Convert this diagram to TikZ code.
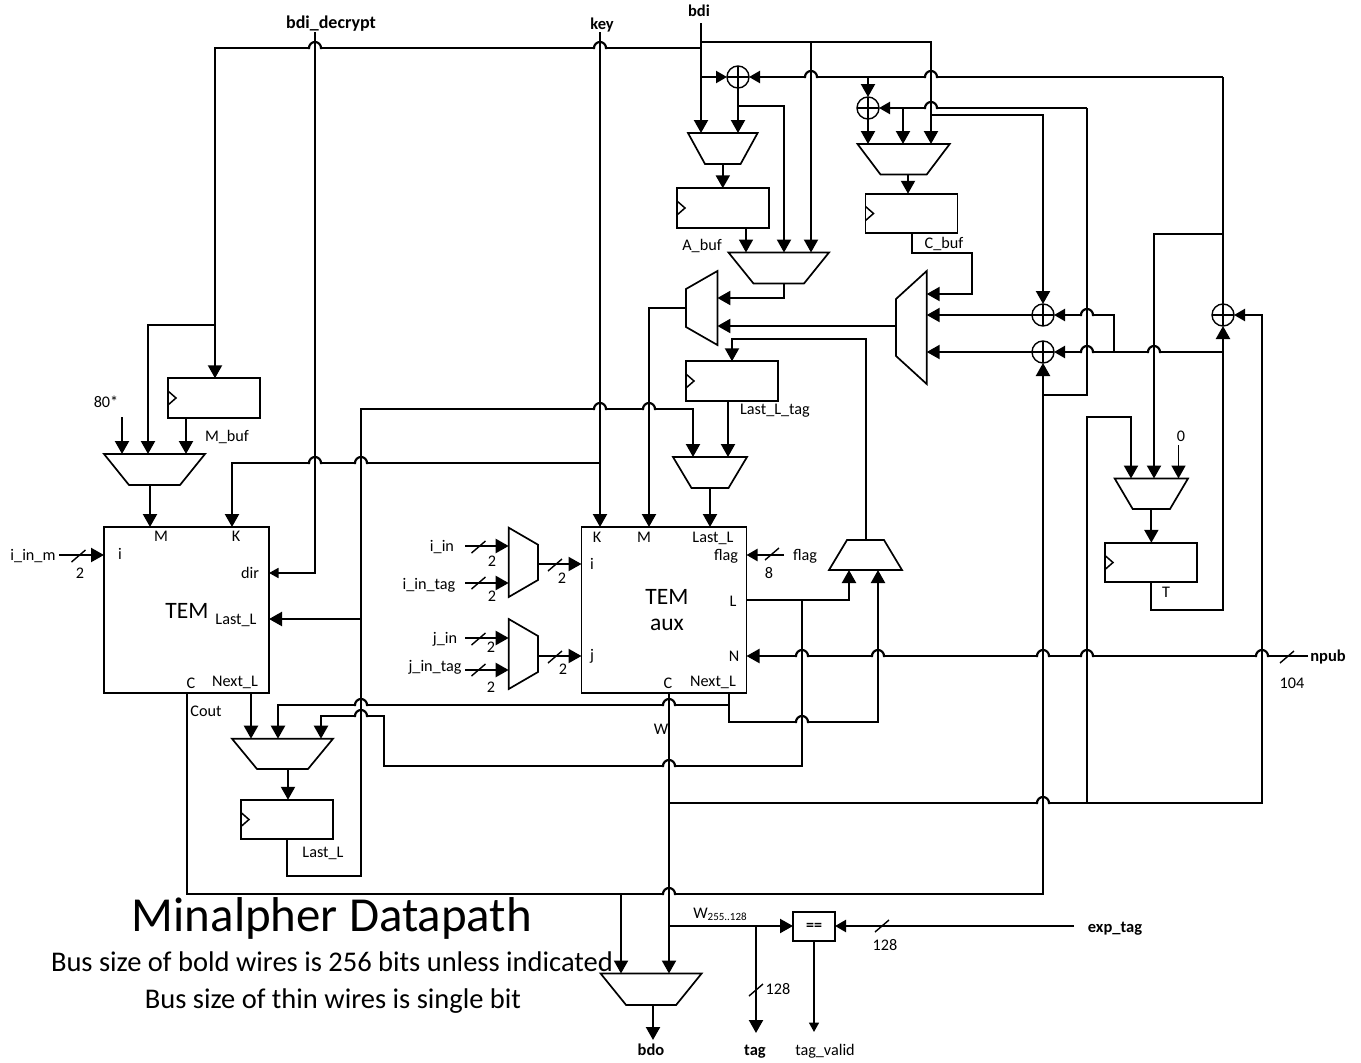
\documentclass[tikz,border=0pt]{standalone}
\usepackage{fontspec}
\setmainfont{Carlito}
\usetikzlibrary{arrows.meta,fit,calc}
\tikzset{
  x=1pt,y=-1pt,
  bus/.style={line width=2.2pt,draw=black},
  thin wire/.style={line width=1.7pt,draw=black},
  ar/.style={-{Triangle[length=13pt,width=14pt]}},
  sar/.style={-{Triangle[length=11pt,width=12pt]}},
  tar/.style={-{Triangle[length=9.5pt,width=10pt]}},
  blk/.style={draw=black,line width=1.6pt,inner sep=0pt,outer sep=0pt},
  regbox/.style={blk,minimum width=92pt,minimum height=39.5pt},
  tembox/.style={blk,minimum width=165pt,minimum height=166pt},
  xorgate/.style={circle,draw=black,line width=1.4pt,minimum size=22pt,inner sep=0pt,outer sep=0pt,
    path picture={\draw[line width=1.3pt] (path picture bounding box.north)--(path picture bounding box.south)
      (path picture bounding box.west)--(path picture bounding box.east);}},
  labbase/.style={inner sep=0pt,outer sep=0pt},
  lab/.style={labbase,text height=11pt,text depth=3pt,font=\fontsize{16.2}{18}\selectfont},
  blab/.style={labbase,text height=11pt,text depth=3pt,font=\fontsize{16.5}{18}\selectfont\bfseries},
  big/.style={labbase,font=\fontsize{23.5}{26}\selectfont},
  mid/.style={labbase,font=\fontsize{28.5}{32}\selectfont},
  huge title/.style={labbase,font=\fontsize{48.9}{52}\selectfont},
  muxline/.style={line width=1.7pt,draw=black,line join=miter},
  muxhold/.style={inner sep=0pt,outer sep=0pt},
}
% name, xl, xr, ytop, ybot, inset
\newcommand{\muxhold}[5]{%
  \coordinate (#1@a) at (#2,#4); \coordinate (#1@b) at (#3,#5);
  \node[muxhold,fit=(#1@a)(#1@b)] (#1) {};}
\newcommand{\muxD}[6]{\muxhold{#1}{#2}{#3}{#4}{#5}%
  \draw[muxline] (#1.north west)--(#1.north east)--([xshift=-#6pt]#1.south east)--([xshift=#6pt]#1.south west)--cycle;}
\newcommand{\muxU}[6]{\muxhold{#1}{#2}{#3}{#4}{#5}%
  \draw[muxline] ([xshift=#6pt]#1.north west)--([xshift=-#6pt]#1.north east)--(#1.south east)--(#1.south west)--cycle;}
\newcommand{\muxR}[6]{\muxhold{#1}{#2}{#3}{#4}{#5}%
  \draw[muxline] (#1.north east)--(#1.south east)--([yshift=#6pt]#1.south west)--([yshift=-#6pt]#1.north west)--cycle;}
\newcommand{\muxL}[6]{\muxhold{#1}{#2}{#3}{#4}{#5}%
  \draw[muxline] (#1.north west)--(#1.south west)--([yshift=#6pt]#1.south east)--([yshift=-#6pt]#1.north east)--cycle;}
\newcommand{\clk}[1]{\draw[line width=1.5pt] ([yshift=7pt]#1.west)--([xshift=8pt]#1.west)--([yshift=-7pt]#1.west);}
\newcommand{\hop}[2]{\begin{scope}[shift={(#1,#2)}]
  \draw[white,line width=3.8pt] (-5.5,0)--(5.5,0);
  \draw[bus] (0,-8)--(0,8);
  \draw[bus] (-7,0)--(-6,0) arc[start angle=180,end angle=0,radius=6pt]--(7,0);
  \end{scope}}
\newcommand{\busslash}[2]{\begin{scope}[shift={(#1,#2)}]\draw[line width=1.4pt] (-7,6)--(7,-6);\end{scope}}
\begin{document}
\begin{tikzpicture}
\useasboundingbox (0,0) rectangle (1361,1063);
% ---- blocks
\node[xorgate] (xorA) at (738,77) {};
\node[xorgate] (xorB) at (868,108) {};
\node[xorgate] (xorC) at (1043,315) {};
\node[xorgate] (xorD) at (1043,352) {};
\node[xorgate] (xorE) at (1223,315) {};
\node[regbox] (rA) at (723,208) {};
\node[regbox] (rC) at (911.5,213.5) {};
\node[regbox] (rL) at (732,381) {};
\node[regbox] (rM) at (214,398) {};
\node[regbox] (rN) at (287,819.5) {};
\node[regbox] (rT) at (1151,562.5) {};
\clk{rA}\clk{rC}\clk{rL}\clk{rM}\clk{rN}\clk{rT}
\node[tembox] (tem) at (186.5,610) {};
\node[tembox] (aux) at (664,610) {};
\node[blk,minimum width=42pt,minimum height=29pt,font=\fontsize{16}{18}\selectfont\bfseries] (eq) at (814,926.5) {==};
\muxD{muxA}{688}{757.6}{133}{164}{17}
\muxD{muxB}{728.5}{829}{252.5}{283.5}{25}
\muxD{muxC}{857.5}{949.7}{144}{174.5}{23}
\muxR{muxE}{686}{717.4}{271}{345}{18}
\muxR{muxF}{896}{926.7}{271}{384}{28}
\muxD{muxG}{673}{747}{457}{488}{18.5}
\muxU{muxH}{829}{902}{540}{570}{18}
\muxD{muxT}{1114.7}{1188}{478.5}{509}{18}
\muxD{muxM}{104}{205}{454}{485}{25}
\muxD{muxN}{232}{333}{738.7}{769}{25}
\muxD{muxO}{600.6}{701.6}{973.5}{1005}{25.5}
\muxL{muxI}{508.7}{538}{527.7}{597}{17}
\muxL{muxJ}{508.7}{538}{619}{689}{17}
% ---- rail coordinates
\coordinate (bdiTop) at (701,23);
\coordinate (railJ) at (701,42);
\coordinate (railC) at (931,42);
\coordinate (railM) at (811,42);
\coordinate (decJ) at (701,48);
\coordinate (decC) at (215,48);
\coordinate (decM) at (215,325);
\coordinate (m148) at (148,325);
\coordinate (feedR) at (1223,77);
\coordinate (feedL) at (701,77);
\coordinate (feedB) at (868,77);
\coordinate (xaJ) at (738,106);
\coordinate (xa783) at (784,106);
\coordinate (rB) at (1087,108);
\coordinate (rB903) at (903,108);
\coordinate (c115) at (931,115);
\coordinate (rBend) at (1087,395);
\coordinate (d395) at (1043,395);
\coordinate (outC) at (908,174.5);
\coordinate (outCb) at (912,233);
\coordinate (c253) at (912,253);
\coordinate (c972) at (972,253);
\coordinate (c294) at (972,294);
\coordinate (outA) at (746,228);
\coordinate (outB) at (784,283.5);
\coordinate (b298) at (784,298);
\coordinate (mOut) at (649,308);
\coordinate (fOut) at (896,326);
\coordinate (cout) at (187,693);
\coordinate (cb) at (187,894);
\coordinate (cr) at (1043,894);
\coordinate (x1114a) at (1114,352);
\coordinate (x1114b) at (1114,315);
\coordinate (eR) at (1223,352);
\coordinate (t610) at (1151,610);
\coordinate (t610r) at (1223,610);
\coordinate (e234) at (1223,234);
\coordinate (t234) at (1154,234);
\coordinate (w803) at (669,803);
\coordinate (w1262) at (1262,803);
\coordinate (w1262u) at (1262,315);
\coordinate (w1087) at (1087,803);
\coordinate (w1087u) at (1087,417);
\coordinate (t1131) at (1131,417);
\coordinate (zero) at (1178.5,445);
\coordinate (hOut) at (866,540);
\coordinate (h339) at (866,339);
\coordinate (l339) at (732,339);
\coordinate (rLout) at (728,400.5);
\coordinate (n287) at (287,876);
\coordinate (n361) at (361,876);
\coordinate (n361u) at (361,409);
\coordinate (g409) at (693,409);
\coordinate (n619) at (361,619);
\coordinate (keyTop) at (600,32);
\coordinate (k463) at (600,463);
\coordinate (t232) at (232,463);
\coordinate (dirTop) at (315,32);
\coordinate (dir573) at (315,573);
\coordinate (in122) at (122,417);
\coordinate (rMout) at (186,418);
\coordinate (temM) at (150,485);
\coordinate (temN) at (251,693);
\coordinate (nOut) at (288,769);
\coordinate (auxN) at (729,693);
\coordinate (a705) at (729,705);
\coordinate (a278) at (278,705);
\coordinate (a722) at (729,722);
\coordinate (a878) at (878,722);
\coordinate (auxL) at (747,600);
\coordinate (l849) at (849,600);
\coordinate (l802) at (802,600);
\coordinate (l766) at (802,766);
\coordinate (l384) at (384,766);
\coordinate (l716) at (384,716);
\coordinate (l321) at (321,716);
\coordinate (npubS) at (1308,656);
\coordinate (flagS) at (784,555);
\coordinate (auxC) at (669,693);
\coordinate (c621) at (621,894);
\coordinate (w926) at (669,926);
\coordinate (expS) at (1074,926);
\coordinate (tagJ) at (756,926);
\coordinate (tagE) at (756,1033);
\coordinate (tvE) at (814,1032);
\coordinate (bdoO) at (653,1005);
\coordinate (bdoE) at (653,1040);
\coordinate (iMs) at (59,555);
\coordinate (iS) at (465,546);
\coordinate (iT) at (465,583);
\coordinate (jS) at (465,638);
\coordinate (jT) at (465,670);
\coordinate (iOut) at (538,564);
\coordinate (jOut) at (538,656);
% ---- wires
\draw[bus,ar] (bdiTop) -- (bdiTop |- muxA.north);
\draw[bus,ar] (railJ) -- (railC) -- (railC |- muxC.north);
\draw[bus,ar] (railM) -- (railM |- muxB.north);
\draw[bus,ar] (decJ) -- (decC) -- (decC |- rM.north);
\draw[bus,ar] (decM) -- (m148) -- (m148 |- muxM.north);
\draw[bus,sar] (feedR) -- (xorA.east);
\draw[bus,sar] (feedL) -- (xorA.west);
\draw[bus,ar] (xorA.south) -- (xorA.south |- muxA.north);
\draw[bus,ar] (xaJ) -- (xa783) -- (xa783 |- muxB.north);
\draw[bus,ar] (feedB) -- (xorB.north);
\draw[bus,ar] (xorB.south) -- (xorB.south |- muxC.north);
\draw[bus,sar] (rB) -- (xorB.east);
\draw[bus,ar] (rB903) -- (rB903 |- muxC.north);
\draw[bus,ar] (c115) -| (xorC.north);
\draw[bus,ar] (muxA.south) -- (muxA.south |- rA.north);
\draw[bus,ar] (outC) -- (outC |- rC.north);
\draw[bus] (rB) -- (rBend) -- (d395);
\draw[thin wire,ar] (outA) -- (outA |- muxB.north);
\draw[bus,ar] (outB) -- (b298) -- (b298 -| muxE.east);
\draw[bus,ar] (muxE.west |- mOut) -- (mOut) -- (mOut |- aux.north);
\draw[bus,ar] (fOut) -- (fOut -| muxE.east);
\draw[bus,ar] (outCb) -- (c253) -- (c972) -- (c294) -- (c294 -| muxF.east);
\draw[bus,ar] (xorC.west) -- (xorC.west -| muxF.east);
\draw[bus,ar] (xorD.west) -- (xorD.west -| muxF.east);
\draw[bus,ar] (cout) -- (cb) -- (cr) -- (xorD.south);
\draw[bus,sar] (x1114a) -- (x1114b) -- (xorC.east);
\draw[bus,sar] (eR) -- (xorD.east);
\draw[bus,ar] (rT.south) -- (t610) -- (t610r) -- (xorE.south);
\draw[bus] (feedR) -- (xorE.north);
\draw[bus,ar] (e234) -- (t234) -- (t234 |- muxT.north);
\draw[bus,sar] (w803) -- (w1262) -- (w1262u) -- (xorE.east);
\draw[bus,ar] (w1087) -- (w1087u) -- (t1131) -- (t1131 |- muxT.north);
\draw[thin wire,ar] (zero) -- (zero |- muxT.north);
\draw[bus,ar] (muxT.south) -- (muxT.south |- rT.north);
\draw[bus,ar] (hOut) -- (h339) -- (l339) -- (l339 |- rL.north);
\draw[bus,ar] (rLout) -- (rLout |- muxG.north);
\draw[bus,ar] (muxG.south) -- (muxG.south |- aux.north);
\draw[bus,ar] (rN.south) -- (n287) -- (n361) -- (n361u) -- (g409) -- (g409 |- muxG.north);
\draw[bus,ar] (n619) -- (n619 -| tem.east);
\draw[bus,ar] (k463) -- (t232) -- (t232 |- tem.north);
\draw[bus,ar] (keyTop) -- (keyTop |- aux.north);
\draw[thin wire,tar] (dirTop) -- (dir573) -- (dir573 -| tem.east);
\draw[bus,ar] (temM) -- (temM |- tem.north);
\draw[bus,ar] (in122) -- (in122 |- muxM.north);
\draw[bus,ar] (rMout) -- (rMout |- muxM.north);
\draw[bus,ar] (temN) -- (temN |- muxN.north);
\draw[bus,ar] (nOut) -- (nOut |- rN.north);
\draw[bus,ar] (auxN) -- (a705) -- (a278) -- (a278 |- muxN.north);
\draw[bus,ar] (a705) -- (a722) -- (a878) -- (a878 |- muxH.south);
\draw[bus,ar] (auxL) -- (l849) -- (l849 |- muxH.south);
\draw[bus,ar] (l802) -- (l766) -- (l384) -- (l716) -- (l321) -- (l321 |- muxN.north);
\draw[bus,ar] (npubS) -- (npubS -| aux.east);
\draw[bus,sar] (flagS) -- (flagS -| aux.east);
\draw[bus,ar] (auxC) -- (auxC |- muxO.north);
\draw[bus,ar] (c621) -- (c621 |- muxO.north);
\draw[bus,ar] (w926) -- (w926 -| eq.west);
\draw[bus,sar] (expS) -- (expS -| eq.east);
\draw[bus,ar] (tagJ) -- (tagE);
\draw[thin wire,tar] (eq.south) -- (tvE);
\draw[bus,ar] (bdoO) -- (bdoE);
\draw[bus,ar] (iMs) -- (iMs -| tem.west);
\draw[bus,ar] (iS) -- (iS -| muxI.west);
\draw[bus,ar] (iT) -- (iT -| muxI.west);
\draw[bus,ar] (jS) -- (jS -| muxJ.west);
\draw[bus,ar] (jT) -- (jT -| muxJ.west);
\draw[bus,ar] (iOut) -- (iOut -| aux.west);
\draw[bus,ar] (jOut) -- (jOut -| aux.west);
% ---- hops
\hop{315}{48}\hop{600}{48}
\hop{811}{77}\hop{931}{77}
\hop{931}{108}
\hop{1087}{315}\hop{1087}{352}\hop{1154}{352}
\hop{600}{409}\hop{649}{409}
\hop{315}{463}\hop{361}{463}
\hop{802}{656}\hop{878}{656}\hop{1043}{656}\hop{1087}{656}\hop{1262}{656}
\hop{361}{705}\hop{669}{705}
\hop{361}{716}
\hop{802}{722}
\hop{669}{766}
\hop{1043}{803}
\hop{669}{894}
% ---- bus slashes
\busslash{78.5}{556}
\busslash{478.5}{547}\busslash{478.5}{583}\busslash{478.5}{639}\busslash{478.5}{670}
\busslash{555}{565}\busslash{555}{657}
\busslash{772}{554}
\busslash{1287}{657}
\busslash{882}{926}
\busslash{756}{990}
% ---- labels
\node[blab,font=\fontsize{18}{20}\selectfont\bfseries] (tDec) at (331,24) {bdi\_decrypt};
\node[blab] (tKey) at (602,25) {key};
\node[blab] (tBdi) at (699,12) {bdi};
\node[lab] (tAbuf) at (702,246) {A\_buf};
\node[lab] (tCbuf) at (944,244) {C\_buf};
\node[lab] (tLtag) at (775,410) {Last\_L\_tag};
\node[lab] (tMbuf) at (227,437) {M\_buf};
\node[lab] (t80) at (106,403) {80*};
\node[lab] (tZero) at (1181,437) {0};
\node[lab] (tT) at (1166,593) {T};
\node[lab] (tIm) at (33,556) {i\_in\_m};
\node[lab] (t2a) at (80,574) {2};
\node[lab] (tM1) at (161,537) {M};
\node[lab] (tK1) at (236,537) {K};
\node[lab] (tI1) at (120,555) {i};
\node[lab] (tDir) at (250,574) {dir};
\node[big] (tTem) at (187,611) {TEM};
\node[lab] (tLL1) at (236,620) {Last\_L};
\node[lab] (tC1) at (191,684) {C};
\node[lab] (tNL1) at (235,682) {Next\_L};
\node[lab] (tCout) at (206,712) {Cout};
\node[lab] (tLL2) at (323,853) {Last\_L};
\node[lab] (tIin) at (442,547) {i\_in};
\node[lab] (tIt) at (429,585) {i\_in\_tag};
\node[lab] (tJin) at (445,639) {j\_in};
\node[lab] (tJt) at (435,667) {j\_in\_tag};
\node[lab] (t2b) at (492,562) {2};
\node[lab] (t2c) at (492,597) {2};
\node[lab] (t2d) at (491,648) {2};
\node[lab] (t2e) at (491,688) {2};
\node[lab] (t2f) at (562,579) {2};
\node[lab] (t2g) at (563,670) {2};
\node[lab] (tK2) at (597,538) {K};
\node[lab] (tM2) at (644,538) {M};
\node[lab] (tLL3) at (713,538) {Last\_L};
\node[lab] (tFl) at (726,556) {flag};
\node[lab] (tI2) at (592,565) {i};
\node[lab] (tL2) at (733,602) {L};
\node[big] (tTem2) at (667,597) {TEM};
\node[big] (tAux) at (667,625) {aux};
\node[lab] (tJ2) at (592,656) {j};
\node[lab] (tN2) at (734,657) {N};
\node[lab] (tC2) at (668,684) {C};
\node[lab] (tNL2) at (713,682) {Next\_L};
\node[lab] (tFlag) at (805,556) {flag};
\node[lab] (t8) at (769,574) {8};
\node[blab] (tNpub) at (1328,657) {npub};
\node[lab] (t104) at (1292,684) {104};
\node[lab] (tW) at (661,730) {W};
\node[lab] (tW2) at (720,914) {W{\fontsize{11}{12}\selectfont\raisebox{-2pt}{255..128}}};
\node[blab] (tExp) at (1115,928) {exp\_tag};
\node[lab] (t128a) at (885,946) {128};
\node[lab] (t128b) at (778,990) {128};
\node[blab] (tBdo) at (651,1051) {bdo};
\node[blab] (tTag) at (755,1051) {tag};
\node[lab] (tTv) at (825,1051) {tag\_valid};
\node[huge title] (tTitle) at (332,918) {Minalpher Datapath};
\node[mid] (tSub1) at (332,962) {Bus size of bold wires is 256 bits unless indicated};
\node[mid] (tSub2) at (333,1001) {Bus size of thin wires is single bit};
\end{tikzpicture}
\end{document}
